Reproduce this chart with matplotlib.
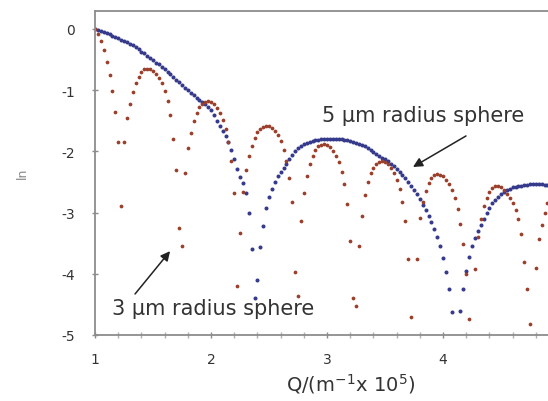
import matplotlib
matplotlib.use("Agg")
import matplotlib.pyplot as plt
from matplotlib.ticker import MultipleLocator

plt.rcParams['font.family'] = ['DejaVu Sans']
plt.rcParams['axes.unicode_minus'] = False

# Q grid (x 10^5 m^-1)
Q = [1.0, 1.025, 1.05, 1.075, 1.1, 1.125, 1.15, 1.175,
     1.2, 1.225, 1.25, 1.275, 1.3, 1.325, 1.35, 1.375,
     1.4, 1.425, 1.45, 1.475, 1.5, 1.525, 1.55, 1.575,
     1.6, 1.625, 1.65, 1.675, 1.7, 1.725, 1.75, 1.775,
     1.8, 1.825, 1.85, 1.875, 1.9, 1.925, 1.95, 1.975,
     2.0, 2.025, 2.05, 2.075, 2.1, 2.125, 2.15, 2.175,
     2.2, 2.225, 2.25, 2.275, 2.3, 2.325, 2.35, 2.375,
     2.4, 2.425, 2.45, 2.475, 2.5, 2.525, 2.55, 2.575,
     2.6, 2.625, 2.65, 2.675, 2.7, 2.725, 2.75, 2.775,
     2.8, 2.825, 2.85, 2.875, 2.9, 2.925, 2.95, 2.975,
     3.0, 3.025, 3.05, 3.075, 3.1, 3.125, 3.15, 3.175,
     3.2, 3.225, 3.25, 3.275, 3.3, 3.325, 3.35, 3.375,
     3.4, 3.425, 3.45, 3.475, 3.5, 3.525, 3.55, 3.575,
     3.6, 3.625, 3.65, 3.675, 3.7, 3.725, 3.75, 3.775,
     3.8, 3.825, 3.85, 3.875, 3.9, 3.925, 3.95, 3.975,
     4.0, 4.025, 4.05, 4.075, 4.1, 4.125, 4.15, 4.175,
     4.2, 4.225, 4.25, 4.275, 4.3, 4.325, 4.35, 4.375,
     4.4, 4.425, 4.45, 4.475, 4.5, 4.525, 4.55, 4.575,
     4.6, 4.625, 4.65, 4.675, 4.7, 4.725, 4.75, 4.775,
     4.8, 4.825, 4.85, 4.875, 4.9]

# 3 um radius sphere (log intensity)
sphere_3um = [0.00, -0.08, -0.19, -0.35, -0.54, -0.76, -1.02, -1.35,
              -1.85, -2.90, -1.85, -1.45, -1.22, -1.03, -0.88, -0.78,
              -0.70, -0.66, -0.65, -0.66, -0.69, -0.73, -0.80, -0.89,
              -1.01, -1.17, -1.40, -1.80, -2.30, -3.25, -3.55, -2.35,
              -1.95, -1.70, -1.50, -1.38, -1.28, -1.22, -1.19, -1.18,
              -1.20, -1.23, -1.29, -1.37, -1.48, -1.64, -1.84, -2.16,
              -2.68, -4.20, -3.33, -2.66, -2.31, -2.08, -1.91, -1.78,
              -1.69, -1.63, -1.60, -1.58, -1.59, -1.61, -1.66, -1.73,
              -1.83, -1.97, -2.15, -2.43, -2.83, -3.97, -4.36, -3.14,
              -2.68, -2.41, -2.21, -2.08, -1.98, -1.92, -1.89, -1.88,
              -1.90, -1.93, -1.99, -2.07, -2.18, -2.34, -2.54, -2.86,
              -3.46, -4.40, -4.53, -3.55, -3.05, -2.72, -2.50, -2.36,
              -2.27, -2.20, -2.17, -2.16, -2.18, -2.21, -2.27, -2.35,
              -2.46, -2.62, -2.82, -3.14, -3.76, -4.70, -5.30, -3.76,
              -3.09, -2.82, -2.64, -2.52, -2.43, -2.39, -2.37, -2.38,
              -2.41, -2.46, -2.53, -2.63, -2.76, -2.94, -3.18, -3.52,
              -4.00, -4.74, -5.40, -3.92, -3.40, -3.10, -2.90, -2.76,
              -2.66, -2.60, -2.57, -2.57, -2.59, -2.63, -2.69, -2.76,
              -2.84, -2.95, -3.10, -3.35, -3.80, -4.25, -4.82, -5.60,
              -3.90, -3.43, -3.20, -3.00, -2.85]

# 5 um radius sphere (log intensity)
sphere_5um = [0.00, -0.02, -0.03, -0.05, -0.07, -0.09, -0.11, -0.13,
              -0.15, -0.18, -0.20, -0.22, -0.24, -0.27, -0.30, -0.33,
              -0.37, -0.40, -0.44, -0.47, -0.51, -0.55, -0.58, -0.62,
              -0.66, -0.70, -0.74, -0.78, -0.83, -0.87, -0.92, -0.96,
              -1.00, -1.04, -1.08, -1.12, -1.16, -1.19, -1.22, -1.27,
              -1.33, -1.41, -1.50, -1.59, -1.67, -1.75, -1.84, -1.97,
              -2.12, -2.28, -2.42, -2.52, -2.68, -3.00, -3.60, -4.40,
              -4.10, -3.57, -3.22, -2.93, -2.75, -2.62, -2.50, -2.41,
              -2.33, -2.27, -2.20, -2.13, -2.06, -2.00, -1.95, -1.91,
              -1.88, -1.86, -1.84, -1.83, -1.82, -1.81, -1.80, -1.80,
              -1.79, -1.79, -1.79, -1.79, -1.80, -1.80, -1.81, -1.82,
              -1.83, -1.84, -1.86, -1.88, -1.90, -1.92, -1.95, -1.98,
              -2.01, -2.04, -2.07, -2.10, -2.13, -2.16, -2.20, -2.24,
              -2.28, -2.33, -2.38, -2.44, -2.50, -2.56, -2.63, -2.70,
              -2.78, -2.87, -2.96, -3.06, -3.16, -3.27, -3.40, -3.55,
              -3.75, -3.97, -4.25, -4.62, -5.10, -5.60, -4.60, -4.25,
              -3.95, -3.72, -3.55, -3.42, -3.30, -3.20, -3.10, -3.00,
              -2.92, -2.85, -2.79, -2.74, -2.70, -2.66, -2.63, -2.61,
              -2.59, -2.58, -2.57, -2.56, -2.55, -2.55, -2.54, -2.54,
              -2.54, -2.54, -2.54, -2.55, -2.55]

x_ticks = [1, 2, 3, 4]
x_tick_labels = ["1", "2", "3", "4"]
y_ticks = [0, -1, -2, -3, -4, -5]
y_tick_labels = ["0", "-1", "-2", "-3", "-4", "-5"]

fig = plt.figure(figsize=(5.48, 4.02), dpi=100)
ax = fig.add_axes([0.1734, 0.1642, 0.8266, 0.8060])

ax.plot(Q, sphere_5um, linestyle='none', marker='o', markersize=2.9,
        color='#363a8c', markeredgewidth=0)
ax.plot(Q, sphere_3um, linestyle='none', marker='o', markersize=2.7,
        color='#9a3f2b', markeredgewidth=0)

ax.set_xlim(1, 4.905)
ax.set_ylim(-5, 0.294)
ax.set_xticks(x_ticks)
ax.set_xticklabels(x_tick_labels)
ax.set_yticks(y_ticks)
ax.set_yticklabels(y_tick_labels)
ax.xaxis.set_minor_locator(MultipleLocator(0.2))

for side in ['left', 'bottom', 'top']:
    ax.spines[side].set_color('#8c8c8c')
    ax.spines[side].set_linewidth(1.3)
ax.spines['right'].set_visible(False)

ax.tick_params(axis='both', which='major', direction='inout', length=5,
               width=1, color='#8c8c8c', labelsize=10, labelcolor='#333333')
ax.tick_params(axis='x', which='minor', direction='inout', length=4,
               width=1, color='#b0b0b0')
ax.tick_params(axis='x', which='major', pad=10)
ax.tick_params(axis='y', which='major', pad=12)

ax.set_xlabel("Q/(m$^{-1}$x 10$^{5}$)", fontsize=14, color='#333333')
ax.xaxis.set_label_coords(0.565, -0.112)
ax.set_ylabel("ln", fontsize=9, color='#888888')
ax.yaxis.set_label_coords(-0.146, 0.503)

ax.text(2.957, -1.50, "5 µm radius sphere", fontsize=15, color='#333333',
        ha='left', va='baseline')
ax.annotate("", xy=(3.741, -2.255), xytext=(4.198, -1.748),
            arrowprops=dict(arrowstyle='-|>', color='#222222', lw=1.1,
                            mutation_scale=14, shrinkA=0, shrinkB=0))

ax.text(1.147, -4.657, "3 µm radius sphere", fontsize=15, color='#333333',
        ha='left', va='baseline')
ax.annotate("", xy=(1.647, -3.63), xytext=(1.345, -4.33),
            arrowprops=dict(arrowstyle='-|>', color='#222222', lw=1.1,
                            mutation_scale=14, shrinkA=0, shrinkB=0))

fig.savefig("out.png", dpi=100, facecolor='white')
